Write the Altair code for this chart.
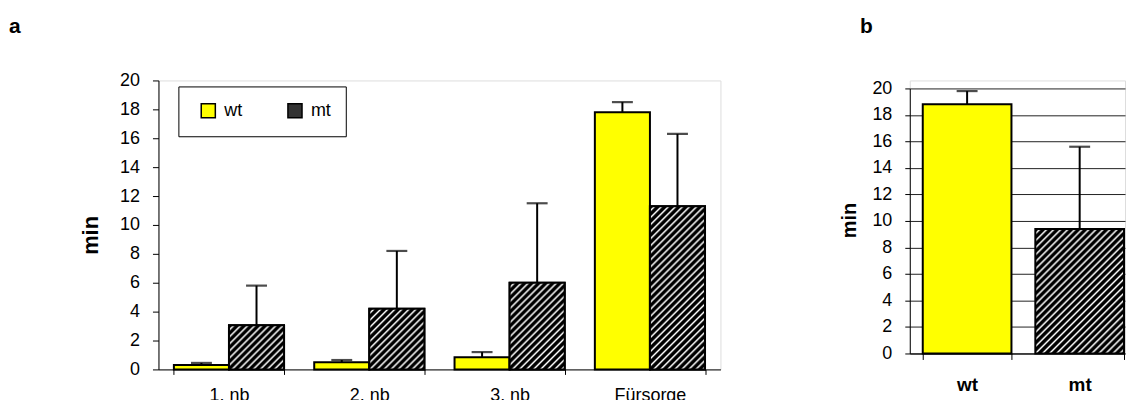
import math
import altair as alt
import pandas as pd

# ---------------- data ----------------
categories = ["1. nb", "2. nb", "3. nb", "Fürsorge"]
series = ["wt", "mt"]
wt_mean = [0.3, 0.5, 0.85, 17.8]
wt_err = [0.15, 0.15, 0.35, 0.7]
mt_mean = [3.05, 4.2, 6.0, 11.3]
mt_err = [2.75, 4.0, 5.5, 5.0]

b_groups = ["wt", "mt"]
b_mean = [18.8, 9.4]
b_err = [1.0, 6.2]

y_ticks = list(range(0, 21, 2))

FONT = "Liberation Sans"
YELLOW = "#FFFF00"

rows = []
for i, c in enumerate(categories):
    rows.append({"cat": c, "series": "wt", "mean": wt_mean[i], "upper": wt_mean[i] + wt_err[i]})
    rows.append({"cat": c, "series": "mt", "mean": mt_mean[i], "upper": mt_mean[i] + mt_err[i]})
df_a = pd.DataFrame(rows)

df_b = pd.DataFrame({"grp": b_groups, "mean": b_mean,
                     "upper": [m + e for m, e in zip(b_mean, b_err)]})

# ---------------- layout sizes ----------------
A_W, A_H = 564, 290
B_W, B_H = 216, 274
B_TOP = 8                      # panel b's value 20 sits a little below the row top
A_PI, A_PO = 0.215, 0.11
B_PI, B_PO, B_ALIGN = 0.212, 0.062, 0.93
TITLE_SIZE = 21


def hatch(w, h, period=5.0):
    """diagonal '/' stripes as a linear gradient in bounding-box units"""
    c = (w + h) * w * h / (w * w + h * h)
    x2, y2 = c / h, c / w
    length = (w + h) / math.sqrt(2)
    n = length / period
    stops = []
    k = 0
    while k < n:
        for frac, col in ((0.0, "#000000"), (0.40, "#000000"), (0.70, "#ffffff"), (1.0, "#000000")):
            stops.append(alt.GradientStop(offset=min((k + frac) / n, 1.0), color=col))
        k += 1
    return alt.LinearGradient(gradient="linear", stops=stops, x1=0, y1=0, x2=x2, y2=y2)


# ---------------- panel a ----------------
a_step = A_W / (len(categories) - A_PI + 2 * A_PO)
a_barw = a_step * (1 - A_PI) / 2

ax_y_a = alt.Axis(values=y_ticks, grid=False, domainColor="black", tickColor="black", tickSize=6,
                  labelFontSize=18, labelColor="black", labelPadding=13, labelFont=FONT,
                  title="min", titleFontSize=22, titleFontWeight="bold", titleColor="black",
                  titleAngle=270, titleX=-56, titleY=155, titleAlign="center", titleBaseline="bottom",
                  titleFont=FONT)
ax_x_a = alt.Axis(title=None, labelAngle=0, labelFontSize=18, labelColor="black", labelPadding=12,
                  tickBand="extent", tickSize=5, tickColor="black", domainColor="black", labelFont=FONT,
                  grid=False)

x_a = alt.X("cat:N", sort=categories, scale=alt.Scale(paddingInner=A_PI, paddingOuter=A_PO), axis=ax_x_a)
xo_a = alt.XOffset("series:N", sort=series, scale=alt.Scale(domain=series, paddingInner=0, paddingOuter=0))
yscale_a = alt.Scale(domain=[0, 20], nice=False)

base_a = alt.Chart(df_a)

bars_a = base_a.mark_bar(stroke="black", strokeWidth=2).encode(
    x=x_a, xOffset=xo_a,
    y=alt.Y("mean:Q", scale=yscale_a, axis=ax_y_a),
    color=alt.Color("series:N", sort=series,
                    scale=alt.Scale(domain=series, range=[YELLOW, "#333333"]),
                    legend=alt.Legend(title=None, orient="none", legendX=20, legendY=6,
                                      direction="horizontal", symbolType="square", symbolSize=200,
                                      symbolStrokeColor="black", symbolStrokeWidth=1.5,
                                      symbolOffset=6,
                                      labelFontSize=18, labelFont=FONT, labelColor="black",
                                      labelOffset=7, columnPadding=38, padding=15,
                                      fillColor="white", strokeColor="black")),
)

hatch_layers_a = []
for i, c in enumerate(categories):
    h = mt_mean[i] * A_H / 20
    hatch_layers_a.append(
        base_a.transform_filter((alt.datum.series == "mt") & (alt.datum.cat == c))
        .mark_bar(fill=hatch(a_barw, h), stroke="black", strokeWidth=2)
        .encode(x=x_a, xOffset=xo_a, y=alt.Y("mean:Q", scale=yscale_a, axis=ax_y_a))
    )

rules_a = base_a.mark_rule(color="black", strokeWidth=2).encode(
    x=x_a, xOffset=xo_a, y=alt.Y("mean:Q", scale=yscale_a, axis=ax_y_a), y2="upper:Q")
caps_a = base_a.mark_tick(color="black", thickness=2.2, size=21).encode(
    x=x_a, xOffset=xo_a, y=alt.Y("upper:Q", scale=yscale_a, axis=ax_y_a))

panel_a = alt.layer(bars_a, *hatch_layers_a, rules_a, caps_a).properties(
    width=A_W, height=A_H,
    title=alt.TitleParams("a", anchor="start", frame="group", fontSize=TITLE_SIZE, fontWeight="bold",
                          font=FONT, color="black", dx=-150, offset=35),
)

# ---------------- panel b ----------------
b_step = B_W / (len(b_groups) - B_PI + 2 * B_PO)
b_barw = b_step * (1 - B_PI)
b_plot_h = B_H - B_TOP

ax_y_b = alt.Axis(values=y_ticks, grid=True, gridColor="#222222", gridWidth=1,
                  domainColor="black", tickColor="black", tickSize=5,
                  labelFontSize=18, labelColor="black", labelPadding=13, labelFont=FONT,
                  title="min", titleFontSize=20, titleFontWeight="bold", titleColor="black",
                  titleAngle=270, titleX=-50, titleY=140, titleAlign="center", titleBaseline="bottom",
                  titleFont=FONT)
ax_x_b = alt.Axis(title=None, labelAngle=0, labelFontSize=19, labelFontWeight="bold", labelColor="black",
                  labelPadding=16, tickBand="extent", tickSize=6, tickColor="black", domainColor="black",
                  labelFont=FONT, grid=False)
x_b = alt.X("grp:N", sort=b_groups,
            scale=alt.Scale(paddingInner=B_PI, paddingOuter=B_PO, align=B_ALIGN), axis=ax_x_b)
yscale_b = alt.Scale(domain=[0, 20], nice=False, range=[B_H, B_TOP])

base_b = alt.Chart(df_b)
bar_b_wt = base_b.transform_filter(alt.datum.grp == "wt").mark_bar(
    fill=YELLOW, stroke="black", strokeWidth=2).encode(
    x=x_b, y=alt.Y("mean:Q", scale=yscale_b, axis=ax_y_b))
bar_b_mt = base_b.transform_filter(alt.datum.grp == "mt").mark_bar(
    fill=hatch(b_barw, b_mean[1] * b_plot_h / 20), stroke="black", strokeWidth=2).encode(
    x=x_b, y=alt.Y("mean:Q", scale=yscale_b, axis=ax_y_b))
rules_b = base_b.mark_rule(color="black", strokeWidth=2).encode(
    x=x_b, y=alt.Y("mean:Q", scale=yscale_b, axis=ax_y_b), y2="upper:Q")
caps_b = base_b.mark_tick(color="black", thickness=2.2, size=21).encode(
    x=x_b, y=alt.Y("upper:Q", scale=yscale_b, axis=ax_y_b))

panel_b = alt.layer(bar_b_wt, bar_b_mt, rules_b, caps_b).properties(
    width=B_W, height=B_H,
    title=alt.TitleParams("b", anchor="start", frame="group", fontSize=TITLE_SIZE, fontWeight="bold",
                          font=FONT, color="black", dx=-50, offset=43),
)

chart = alt.hconcat(panel_a, panel_b, spacing=118).properties(
    padding={"top": 6, "left": 0, "right": 0, "bottom": 0}).configure_view(
    stroke="transparent", strokeWidth=0).configure(font=FONT)

chart.save("out.html", embed_options={"renderer": "svg", "actions": False})
